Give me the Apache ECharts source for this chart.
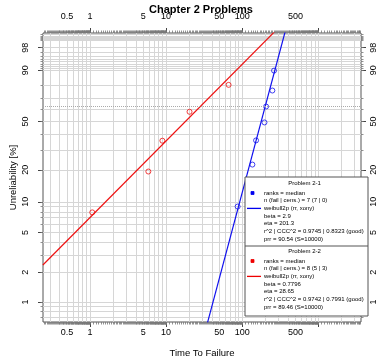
<!DOCTYPE html>
<html><head><meta charset="utf-8">
<script src="https://cdn.jsdelivr.net/npm/echarts@6/dist/echarts.min.js"></script>
<style>html,body{margin:0;padding:0;background:#fff}#c{width:384px;height:364px}</style>
</head><body><div id="c"></div>
<script>
// ---- data (time to failure, unreliability as fraction) ----
const p21Time  = [87, 136, 152, 196, 206, 249, 262];
const p21Unrel = [0.090, 0.223, 0.359, 0.492, 0.626, 0.761, 0.898];
const p22Time  = [1.07, 5.84, 8.93, 20.3, 66.2];
const p22Unrel = [0.079, 0.193, 0.357, 0.581, 0.805];
// fitted weibull2p lines, endpoints
const p21FitTime  = [35, 370];
const p21FitUnrel = [0.0062, 0.9971];
const p22FitTime  = [0.24, 270];
const p22FitUnrel = [0.0237, 0.9968];
// tick labels
const xLabelVals = [0.5, 1, 5, 10, 50, 100, 500];
const xMajorTickVals = [1, 10, 100, 1000];
const yLabelPct = [1, 2, 5, 10, 20, 50, 90, 98];
const yGridPct = [0.7,0.8,0.9,1,2,3,4,5,6,7,8,9,10,20,30,40,50,60,70,80,90,91,92,93,94,95,96,97,98,99,99.1,99.2,99.3,99.4,99.5,99.6,99.7,99.8,99.9];
const legend21 = ['Problem 2-1','ranks = median','n (fail | cens.) = 7 (7 | 0)','weibull2p (rr, xony)','beta = 2.9','eta = 201.3','r^2 | CCC^2 = 0.9745 | 0.8323 (good)','prr = 90.54 (S=10000)'];
const legend22 = ['Problem 2-2','ranks = median','n (fail | cens.) = 8 (5 | 3)','weibull2p (rr, xony)','beta = 0.7796','eta = 28.65','r^2 | CCC^2 = 0.9742 | 0.7991 (good)','prr = 89.46 (S=10000)'];

// ---- scales ----
const tx = t => Math.log10(t);
const ty = F => Math.log(-Math.log(1 - F));
const XMIN = -0.618, XMAX = 3.561;
const YMIN = -5.067, YMAX = 1.707;

const xMinor = [], xGrid = [];
for (let d = -1; d <= 3; d++) {
  for (let k = 10; k < 100; k++) { const v = Math.log10(k / 10) + d; if (v >= XMIN && v <= XMAX) xMinor.push(v); }
  for (let k = 1; k < 10; k++) { const v = Math.log10(k) + d; if (v >= XMIN && v <= XMAX) xGrid.push(v); }
}
const yGrid = yGridPct.map(p => ty(p / 100)).filter(v => v >= YMIN && v <= YMAX);
const yLab = yLabelPct.map(p => ty(p / 100));
const xFmt = v => String(Number(Math.pow(10, v).toPrecision(4)));
const yFmt = v => String(Math.round((1 - Math.exp(-Math.exp(v))) * 100));

const pairs = (ts, fs) => ts.map((t, i) => [tx(t), ty(fs[i])]);
const FONT = 'Liberation Sans, Arial, sans-serif';
const tickCol = '#444';
const minorCol = '#777';

function xAx(pos, kind) {
  const a = { type: 'value', min: XMIN, max: XMAX, position: pos, gridIndex: 0,
    axisLine: { show: false, onZero: false }, splitLine: { show: false },
    axisLabel: { show: false }, axisTick: { show: false } };
  if (kind === 'major') {
    a.axisTick = { show: true, length: 5, customValues: xMajorTickVals.map(tx), lineStyle: { color: tickCol } };
    a.axisLabel = { show: true, customValues: xLabelVals.map(tx), formatter: xFmt, fontSize: 9, fontFamily: FONT, color: '#000', margin: pos === 'top' ? 12 : 6 };
  } else if (kind === 'minor') {
    a.axisTick = { show: true, length: 2.5, customValues: xMinor, lineStyle: { color: minorCol, width: 0.8 } };
  } else {
    a.axisTick = { show: false, customValues: xGrid };
    a.splitLine = { show: true, lineStyle: { color: '#d6d6d6', width: 1 } };
  }
  return a;
}
function yAx(pos, kind) {
  const a = { type: 'value', min: YMIN, max: YMAX, position: pos, gridIndex: 0,
    axisLine: { show: false, onZero: false }, splitLine: { show: false },
    axisLabel: { show: false }, axisTick: { show: false } };
  if (kind === 'major') {
    a.axisTick = { show: true, length: 5, customValues: yLab, lineStyle: { color: tickCol } };
    a.axisLabel = { show: true, customValues: yLab, formatter: yFmt, rotate: 90, fontSize: 9, fontFamily: FONT, color: '#000', margin: pos === 'left' ? 13 : 8 };
  } else {
    a.axisTick = { show: true, length: 2.5, customValues: yGrid, lineStyle: { color: minorCol, width: 0.8 } };
    if (pos === 'left') a.splitLine = { show: true, lineStyle: { color: '#d6d6d6', width: 1 } };
  }
  return a;
}

const xAxes = [xAx('bottom', 'major'), xAx('bottom', 'minor'), xAx('bottom', 'grid'), xAx('top', 'major'), xAx('top', 'minor')];
xAxes[0].name = 'Time To Failure';
xAxes[0].nameLocation = 'middle';
xAxes[0].nameGap = 26;
xAxes[0].nameMoveOverlap = false;
xAxes[0].nameTextStyle = { fontSize: 9.5, fontFamily: FONT, color: '#000' };
const yAxes = [yAx('left', 'major'), yAx('left', 'minor'), yAx('right', 'major'), yAx('right', 'minor')];
yAxes[0].name = 'Unreliability [%]';
yAxes[0].nameLocation = 'middle';
yAxes[0].nameGap = 25;
yAxes[0].nameMoveOverlap = false;
yAxes[0].nameTextStyle = { fontSize: 9.5, fontFamily: FONT, color: '#000' };

// ---- legend graphic ----
const LX = 245, LY = 177, LW = 123, LH = 139, DIV = 246;
const g = [];
g.push({ type: 'rect', shape: { x: LX, y: LY, width: LW, height: LH }, style: { fill: '#fff', stroke: '#555', lineWidth: 1 }, z: 100 });
g.push({ type: 'line', shape: { x1: LX, y1: DIV, x2: LX + LW, y2: DIV }, style: { stroke: '#555', lineWidth: 1 }, z: 101 });
function block(lines, y0, col) {
  g.push({ type: 'text', x: LX + LW / 2 - 2, y: y0, style: { text: lines[0], font: '6px ' + FONT, fill: '#000', textAlign: 'center', textVerticalAlign: 'middle' }, z: 101 });
  for (let i = 1; i < lines.length; i++) {
    g.push({ type: 'text', x: LX + 19, y: y0 + 9.5 + (i - 1) * 7.7, style: { text: lines[i], font: '6px ' + FONT, fill: '#000', textAlign: 'left', textVerticalAlign: 'middle' }, z: 101 });
  }
  g.push({ type: 'rect', shape: { x: LX + 6, y: y0 + 8, width: 3, height: 3 }, style: { fill: col, stroke: col, lineWidth: 0.8 }, z: 101 });
  g.push({ type: 'line', shape: { x1: LX + 2, y1: y0 + 9.5 + 2 * 7.7, x2: LX + 16, y2: y0 + 9.5 + 2 * 7.7 }, style: { stroke: col, lineWidth: 1.3 }, z: 101 });
}
block(legend21, 183.5, '#0000ee');
block(legend22, 251.5, '#ee0000');
g.push({ type: 'text', x: 201, y: 10, style: { text: 'Chapter 2 Problems', font: 'bold 11px ' + FONT, fill: '#000', textAlign: 'center', textVerticalAlign: 'middle' }, z: 100 });

const chart = echarts.init(document.getElementById('c'), null, { renderer: 'canvas' });
chart.setOption({
  animation: false,
  backgroundColor: '#fff',
  grid: { left: 43, right: 23, top: 33, bottom: 42, outerBoundsMode: 'none', containLabel: false, show: true, borderColor: '#555', borderWidth: 1, backgroundColor: 'transparent' },
  xAxis: xAxes,
  yAxis: yAxes,
  series: [
    { type: 'line', data: pairs(p22FitTime, p22FitUnrel), showSymbol: false, symbol: 'none', lineStyle: { color: '#ee1111', width: 1.2 }, clip: true, z: 3,
      markLine: { silent: true, symbol: 'none', label: { show: false }, lineStyle: { type: 'dotted', color: '#aaa', width: 1 }, data: [{ yAxis: 0 }] } },
    { type: 'line', data: pairs(p21FitTime, p21FitUnrel), showSymbol: false, symbol: 'none', lineStyle: { color: '#1111ee', width: 1.2 }, clip: true, z: 3 },
    { type: 'scatter', data: pairs(p22Time, p22Unrel), symbol: 'circle', symbolSize: 5, itemStyle: { color: 'rgba(255,255,255,0)', borderColor: '#ee1111', borderWidth: 1 }, z: 4 },
    { type: 'scatter', data: pairs(p21Time, p21Unrel), symbol: 'circle', symbolSize: 5, itemStyle: { color: 'rgba(255,255,255,0)', borderColor: '#1111ee', borderWidth: 1 }, z: 4 }
  ],
  graphic: g
});
</script></body></html>
